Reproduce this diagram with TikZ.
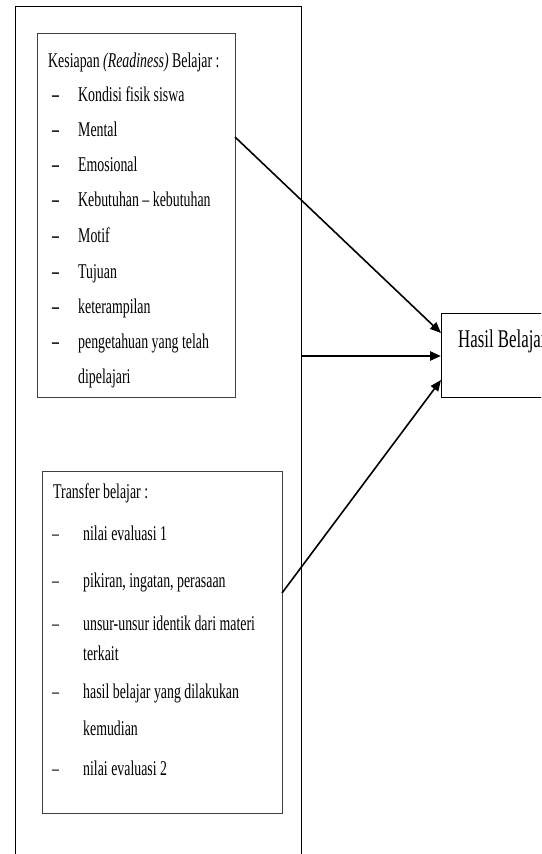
\documentclass[tikz,border=0pt]{standalone}
\usepackage{fontspec}
\setmainfont{Liberation Serif}[FakeStretch=0.66]
\usetikzlibrary{arrows.meta}
\tikzset{
  box/.style={draw=black!75, line width=0.9pt, inner sep=0pt},
  txt/.style={anchor=base west, inner sep=0pt, font=\fontsize{21}{24}\selectfont},
  dsh/.style={anchor=base west, inner sep=0pt, font=\fontsize{21}{24}\selectfont},
  conn/.style={line width=1.6pt, -{Triangle[length=11pt,width=9pt]}},
}
\begin{document}
\begin{tikzpicture}[x=1pt,y=-1pt]
\useasboundingbox (0,0) rectangle (541,854);
\clip (0,0) rectangle (541,854);
% outer frame
\draw[line width=0.9pt] (15,870) -- (15,6) -- (301,6) -- (301,870);
\coordinate (outerR) at (301,356);
% box 1
\node[box, minimum width=198pt, minimum height=364pt] (b1) at (136,215) {};
\node[txt] (h1) at (48,67) {Kesiapan \textit{(Readiness)} Belajar :};
\foreach \y/\t [count=\i] in {101/Kondisi fisik siswa, 136/Mental, 171/Emosional, 206/Kebutuhan -- kebutuhan, 242/Motif, 278/Tujuan, 313/keterampilan, 348/pengetahuan yang telah}{
  \node[dsh] (d1\i) at (52,\y) {\textbf{--}};
  \node[txt] (t1\i) at (78,\y) {\t};
}
\node[txt] (t1x) at (78,383) {dipelajari};
% box 2
\node[box, minimum width=240pt, minimum height=342pt] (b2) at (162,642) {};
\node[txt] (h2) at (53,498) {Transfer belajar :};
\foreach \y/\t [count=\i] in {540/nilai evaluasi 1, 587/{pikiran, ingatan, perasaan}, 630/unsur-unsur identik dari materi, 698/hasil belajar yang dilakukan, 775/nilai evaluasi 2}{
  \node[dsh] (d2\i) at (52,\y) {--};
  \node[txt] (t2\i) at (83,\y) {\t};
}
\node[txt] (t2a) at (83,660) {terkait};
\node[txt] (t2b) at (83,735) {kemudian};
% result box
\node[box, draw=black, minimum width=140pt, minimum height=84pt] (hb) at (511,355) {};
\node[anchor=base west, inner sep=0pt, font=\fontsize{25.5}{28}\selectfont] (hbt) at (458,347) {Hasil Belajar};
% connectors
\coordinate (s1) at (235,137);
\coordinate (e1) at (441,333);
\coordinate (e2) at (441,356);
\coordinate (s3) at (282,593);
\coordinate (e3) at (441,380);
\draw[conn] (s1) -- (e1);
\draw[conn, line width=2.6pt] (outerR) -- (e2);
\draw[conn] (s3) -- (e3);
\end{tikzpicture}
\end{document}
